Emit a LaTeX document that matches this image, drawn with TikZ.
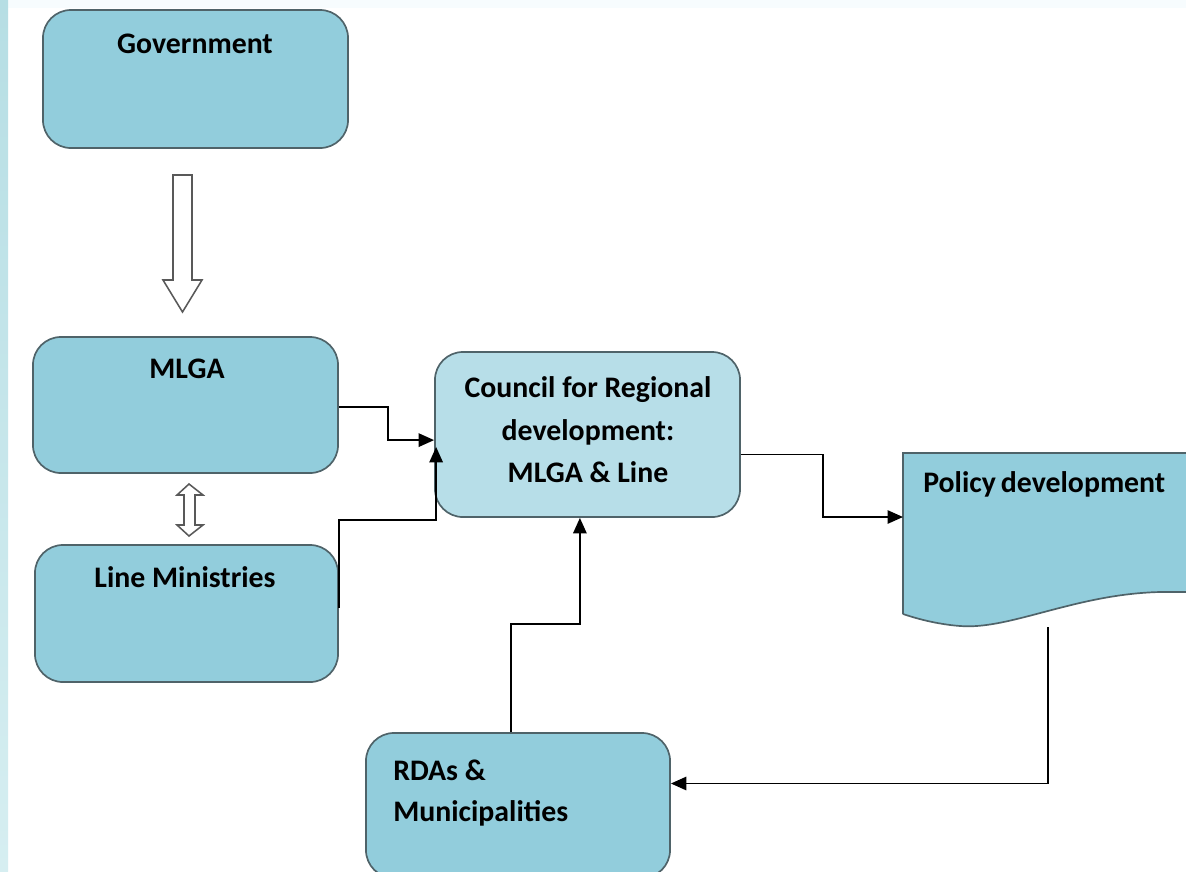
\documentclass[tikz,border=0pt]{standalone}
\usepackage{fontspec}
\setmainfont{Carlito}
\usetikzlibrary{arrows.meta}

\definecolor{boxblue}{HTML}{92CDDC}
\definecolor{councilblue}{HTML}{B7DEE8}
\definecolor{boxline}{HTML}{4F6369}
\definecolor{stripblue}{HTML}{B6DEE4}
\definecolor{striplight}{HTML}{D6EEF1}

\tikzset{
    box/.style = {draw=boxline, line width=1.2pt, fill=boxblue,
        rounded corners=0.7cm, inner sep=0pt},
    boxtext/.style = {font=\bfseries\fontsize{21.2}{29}\selectfont, inner sep=0pt},
    conn/.style = {draw, line width=1.3pt, -{Triangle[length=11pt,width=9.5pt]}},
    hollow/.style = {draw=gray!70!black, line width=1.1pt, fill=white, line join=miter}
}

\begin{document}
\begin{tikzpicture}[x=0.025cm, y=-0.025cm]
    \useasboundingbox (0,0) rectangle (1186,871);
    \clip (0,0) rectangle (1186,871);
    % background strips
    \fill[white] (0,0) rectangle (1186,871);
    \fill[black!3!cyan!3!white] (0,0) rectangle (1186,8);
    \shade[top color=stripblue, bottom color=striplight] (0,0) rectangle (8,871);

    % boxes
    \node[box, minimum width=7.625cm, minimum height=3.45cm] (gov) at (195.5,79) {};
    \node[box, minimum width=7.625cm, minimum height=3.4cm] (mlga) at (185.5,405) {};
    \node[box, minimum width=7.575cm, minimum height=3.425cm] (line) at (186.5,613.5) {};
    \node[box, fill=councilblue, minimum width=7.625cm, minimum height=4.125cm] (council) at (587.5,434.5) {};
    \node[box, minimum width=7.6cm, minimum height=3.625cm] (rdas) at (518,805.5) {};

    % policy document
    \coordinate (pol-nw) at (903,453);
    \coordinate (pol-in) at (903,517);
    \coordinate (pol-out) at (1048,627);
    \draw[draw=boxline, line width=1.2pt, fill=boxblue]
        (903,614) -- (pol-nw) -- (1200,453) -- (1200,592) -- (1160,592)
        .. controls (1075,594) and (1010,630) .. (960,626)
        .. controls (935,624) and (915,618) .. (903,614);

    % texts
    \node[boxtext, anchor=base] (gov-text) at (195,53) {Government};
    \node[boxtext, anchor=base] (mlga-text) at (187,378) {MLGA};
    \node[boxtext, anchor=base] (line-text) at (185,587) {Line Ministries};
    \node[boxtext, font=\bfseries\fontsize{21.2}{30.5}\selectfont, anchor=north, align=center]
        (council-text) at (588,376) {Council for Regional\\development:\\MLGA \& Line};
    \node[boxtext, anchor=base west] (pol-text) at (923,492) {Policy\,development};
    \node[boxtext, anchor=north west, align=left] (rdas-text) at (393,760)
        {RDAs \&\\Municipalities};

    % hollow arrows
    \draw[hollow] (173,175) -- (192,175) -- (192,280) -- (202,280) -- (182.5,312)
        -- (163,280) -- (173,280) -- cycle;
    \draw[hollow] (189,484) -- (203,495) -- (195,495) -- (195,525) -- (203,525)
        -- (189,536) -- (177,525) -- (184,525) -- (184,495) -- (177,495) -- cycle;

    % connectors
    \draw[conn] (mlga.east) ++(0,2) -- ++(49,0) |- ([yshift=-0.14cm]council.west);
    \draw[conn] ([yshift=0.14cm]line.east) -- ++(0,-88) -| ([xshift=0.05cm,yshift=-0.31cm]council.west);
    \draw[conn] ([yshift=-0.5cm]council.east) -- ++(82,0) |- (pol-in);
    \draw[conn] (pol-out) |- ([yshift=0.55cm]rdas.east);
    \draw[conn] ([xshift=-0.175cm]rdas.north) -- ++(0,-108) -| ([xshift=-0.19cm]council.south);
\end{tikzpicture}
\end{document}
